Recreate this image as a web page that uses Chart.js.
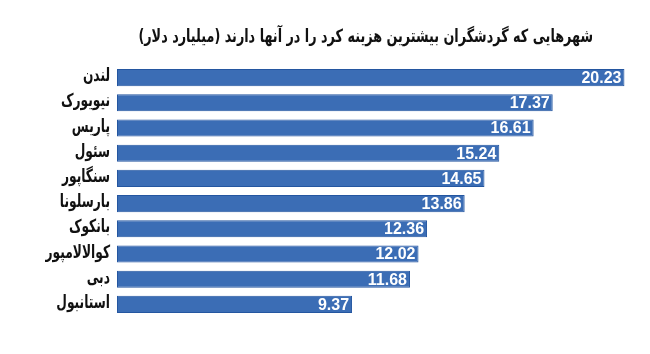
<!DOCTYPE html>
<html>
<head>
<meta charset="utf-8">
<script src="https://cdn.jsdelivr.net/npm/chart.js@4"></script>
<style>
  html, body { margin: 0; padding: 0; background: #fff; }
  #wrap { width: 650px; height: 354px; position: relative; }
</style>
</head>
<body>
<div id="wrap"><canvas id="barChart"></canvas></div>
<script>
// chart title
const TITLE = 'شهرهایی که گردشگران بیشترین هزینه کرد را در آنها دارند (میلیارد دلار)';

// cities, top to bottom
const cities = ['لندن', 'نیویورک', 'پاریس', 'سئول', 'سنگاپور', 'بارسلونا', 'بانکوک', 'کوالالامپور', 'دبی', 'استانبول'];

// spending, billion dollars
const spending = [20.23, 17.37, 16.61, 15.24, 14.65, 13.86, 12.36, 12.02, 11.68, 9.37];

// x axis range (axis itself is hidden)
const X_MIN = 0;
const X_MAX = 20.85;

const BAR_FILL = '#3b6db5';
const BAR_EDGE = '#2456a0';

// the original uses a narrow persian face, so squeeze DejaVu a bit
function drawNarrow(ctx, text, x, y, squeeze) {
    ctx.save();
    ctx.translate(x, y);
    ctx.scale(squeeze, 1);
    ctx.fillText(text, 0, 0);
    ctx.restore();
}

// title on the right, like the original
const titlePlugin = {
    id: 'rtlTitle',
    afterDraw(chart) {
        const ctx = chart.ctx;
        ctx.save();
        ctx.direction = 'rtl';
        ctx.font = 'bold 18px "DejaVu Sans"';
        ctx.fillStyle = '#111';
        ctx.textAlign = 'right';
        ctx.textBaseline = 'middle';
        drawNarrow(ctx, TITLE, 593, 37, 0.71);
        ctx.restore();
    }
};

// city names, placed at the y scale's tick positions
const cityLabels = {
    id: 'cityLabels',
    afterDraw(chart) {
        const ctx = chart.ctx;
        const yScale = chart.scales.y;
        ctx.save();
        ctx.direction = 'rtl';
        ctx.font = 'bold 18px "DejaVu Sans"';
        ctx.fillStyle = '#111';
        ctx.textAlign = 'right';
        ctx.textBaseline = 'middle';
        cities.forEach(function (name, i) {
            drawNarrow(ctx, name, yScale.right - 7, yScale.getPixelForTick(i) - 1, 0.68);
        });
        ctx.restore();
    }
};

// white value labels at the end of each bar
const valuePlugin = {
    id: 'barValues',
    afterDatasetsDraw(chart) {
        const ctx = chart.ctx;
        const meta = chart.getDatasetMeta(0);
        ctx.save();
        ctx.font = 'bold 16px "Liberation Sans", Arial, sans-serif';
        ctx.fillStyle = '#fff';
        ctx.textAlign = 'right';
        ctx.textBaseline = 'middle';
        meta.data.forEach(function (bar, i) {
            ctx.fillText(spending[i].toFixed(2), bar.x - 3, bar.y + 1);
        });
        ctx.restore();
    }
};

var ctx = document.getElementById('barChart').getContext('2d');
var myChart = new Chart(ctx, {
    type: 'bar',
    data: {
        labels: cities,
        datasets: [{
            data: spending,
            backgroundColor: BAR_FILL,
            borderColor: BAR_EDGE,
            borderWidth: 1,
            borderSkipped: false,
            categoryPercentage: 1.0,
            barPercentage: 0.68
        }]
    },
    options: {
        indexAxis: 'y',
        responsive: true,
        maintainAspectRatio: false,
        animation: false,
        layout: {
            padding: { top: 65, right: 10, bottom: 37, left: 0 }
        },
        plugins: {
            legend: { display: false },
            title: { display: false },
            tooltip: { enabled: false }
        },
        scales: {
            x: {
                display: false,
                min: X_MIN,
                max: X_MAX
            },
            y: {
                grid: { display: false },
                border: { display: false },
                ticks: { display: false },
                afterFit(scale) {
                    scale.width = 117;
                }
            }
        }
    },
    plugins: [titlePlugin, cityLabels, valuePlugin]
});
</script>
</body>
</html>
